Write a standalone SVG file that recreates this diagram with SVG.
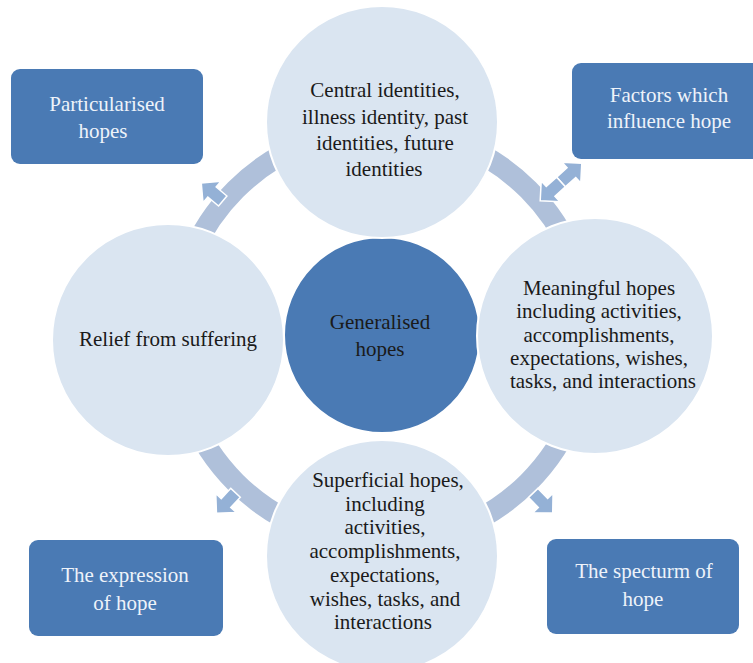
<svg xmlns="http://www.w3.org/2000/svg" width="753" height="663" viewBox="0 0 753 663">
<style>
.box{fill:#4a7ab4;}
.bt{font-family:"Liberation Serif",serif;font-size:21px;fill:#eef3fa;text-anchor:middle;}
.ct{font-family:"Liberation Serif",serif;font-size:21px;fill:#1a1a1a;text-anchor:middle;}
.lc{fill:#dae5f1;stroke:#ffffff;stroke-width:2;}
.dc{fill:#4a7ab4;stroke:#ffffff;stroke-width:2;}
.ar{fill:#94b1d6;stroke:#ffffff;stroke-width:1.5;}
</style>
<defs>
<polygon id="arr" points="-14,-6.5 0,-6.5 0,-14 14,0 0,14 0,6.5 -14,6.5"/>
</defs>
<rect width="753" height="663" fill="#ffffff"/>
<g id="connectors">
<circle cx="382" cy="336" r="207" fill="none" stroke="#afc0da" stroke-width="21"/>
<use href="#arr" class="ar" transform="translate(212,192) rotate(-140)"/>
<use href="#arr" class="ar" transform="translate(226,503) rotate(133)"/>
<use href="#arr" class="ar" transform="translate(543,503) rotate(46)"/>
<use href="#arr" class="ar" transform="translate(561,182) rotate(-42) translate(14,0)"/>
<use href="#arr" class="ar" transform="translate(561,182) rotate(138) translate(14,0)"/>
</g>
<g id="node-generalised">
<circle class="dc" cx="382" cy="335" r="98"/>
<text class="ct" x="380"><tspan x="380" y="329">Generalised</tspan><tspan x="380" y="356">hopes</tspan></text>
</g>
<g id="node-central">
<circle class="lc" cx="382" cy="122" r="116"/>
<text class="ct"><tspan x="385" y="97">Central identities,</tspan><tspan x="385" y="124">illness identity, past</tspan><tspan x="385" y="150">identities, future</tspan><tspan x="384" y="176">identities</tspan></text>
</g>
<g id="node-meaningful">
<circle class="lc" cx="595" cy="336" r="118"/>
<text class="ct"><tspan x="599" y="295">Meaningful hopes</tspan><tspan x="599" y="318">including activities,</tspan><tspan x="599" y="342">accomplishments,</tspan><tspan x="599" y="365">expectations, wishes,</tspan><tspan x="603" y="388">tasks, and interactions</tspan></text>
</g>
<g id="node-superficial">
<circle class="lc" cx="382" cy="556" r="116"/>
<text class="ct"><tspan x="388" y="487">Superficial hopes,</tspan><tspan x="385" y="511">including</tspan><tspan x="385" y="534">activities,</tspan><tspan x="385" y="558">accomplishments,</tspan><tspan x="385" y="582">expectations,</tspan><tspan x="385" y="606">wishes, tasks, and</tspan><tspan x="383" y="629">interactions</tspan></text>
</g>
<g id="node-relief">
<circle class="lc" cx="168" cy="340" r="116"/>
<text class="ct" x="168" y="346">Relief from suffering</text>
</g>
<g id="box-particularised">
<rect class="box" x="11" y="69" width="192" height="95" rx="9"/>
<text class="bt"><tspan x="107" y="111">Particularised</tspan><tspan x="103" y="138">hopes</tspan></text>
</g>
<g id="box-factors">
<rect class="box" x="572" y="63" width="194" height="96" rx="9"/>
<text class="bt"><tspan x="669" y="102">Factors which</tspan><tspan x="669" y="128">influence hope</tspan></text>
</g>
<g id="box-expression">
<rect class="box" x="29" y="540" width="194" height="96" rx="9"/>
<text class="bt"><tspan x="125" y="582">The expression</tspan><tspan x="125" y="610">of hope</tspan></text>
</g>
<g id="box-spectrum">
<rect class="box" x="547" y="539" width="192" height="95" rx="9"/>
<text class="bt"><tspan x="644" y="578">The specturm of</tspan><tspan x="643" y="606">hope</tspan></text>
</g>
</svg>
